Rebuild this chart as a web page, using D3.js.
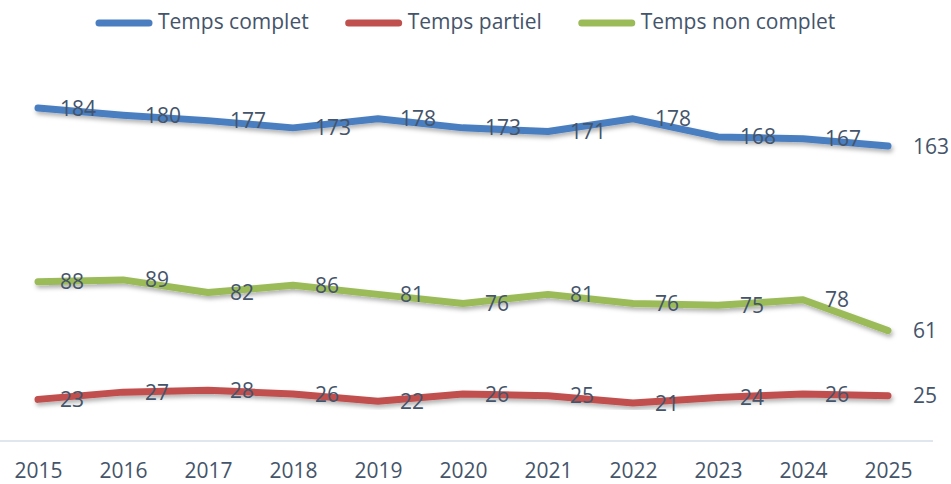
<!DOCTYPE html>
<html>
<head>
<meta charset="utf-8">
<script src="https://cdn.jsdelivr.net/npm/d3@7"></script>
<style>
  html, body { margin: 0; background: #fff; }
  text { font-family: "Open Sans", sans-serif; fill: #44546A; }
</style>
</head>
<body>
<script>
const years = ['2015', '2016', '2017', '2018', '2019', '2020', '2021', '2022', '2023', '2024', '2025'];
const complet = [184, 180, 177, 173, 178, 173, 171, 178, 168, 167, 163];
const partiel = [23, 27, 28, 26, 22, 26, 25, 21, 24, 26, 25];
const nonComplet = [88, 89, 82, 86, 81, 76, 81, 76, 75, 78, 61];
const seriesNames = ['Temps complet', 'Temps partiel', 'Temps non complet'];
const colors = ['#4A7EC0', '#C0504D', '#9BBB59'];

const width = 951;
const height = 484;

const svg = d3.select('body')
  .append('svg')
  .attr('width', width)
  .attr('height', height);

const defs = svg.append('defs');
defs.append('filter')
  .attr('id', 'shadow')
  .attr('x', '-5%').attr('y', '-50%')
  .attr('width', '110%').attr('height', '200%')
  .append('feDropShadow')
  .attr('dx', 1.5)
  .attr('dy', 3)
  .attr('stdDeviation', 2)
  .attr('flood-color', '#000')
  .attr('flood-opacity', 0.3);

const x = d3.scalePoint().domain(years).range([38, 888]);
const y = d3.scaleLinear().domain([0, 200]).range([441, 79]);

// axis line + year labels
svg.append('line')
  .attr('x1', 0)
  .attr('x2', 933)
  .attr('y1', y(0))
  .attr('y2', y(0))
  .attr('stroke', '#D5DEE8')
  .attr('stroke-width', 1.5);

const xAxis = svg.append('g')
  .attr('transform', `translate(0,${y(0)})`)
  .call(d3.axisBottom(x).tickSize(0).tickPadding(22));
xAxis.select('.domain').remove();
xAxis.selectAll('text')
  .attr('font-size', 21)
  .attr('fill', '#44546A')
  .style('font-family', '"Open Sans", sans-serif');

const data = [complet, partiel, nonComplet];

const line = d3.line()
  .x((d, i) => x(years[i]))
  .y(d => y(d));

data.forEach((values, k) => {
  svg.append('path')
    .datum(values)
    .attr('d', line)
    .attr('fill', 'none')
    .attr('stroke', colors[k])
    .attr('stroke-width', 7)
    .attr('stroke-linecap', 'round')
    .attr('stroke-linejoin', 'round')
    .attr('filter', 'url(#shadow)');
});

data.forEach((values, k) => {
  svg.append('g')
    .selectAll('text')
    .data(values)
    .join('text')
    .attr('x', (d, i) => x(years[i]) + (i === years.length - 1 ? 25 : 22))
    .attr('y', d => y(d))
    .attr('dy', '0.36em')
    .attr('font-size', 21)
    .text(d => d);
});

// legend
const legend = svg.append('g');
let lx = 97;
seriesNames.forEach((name, k) => {
  legend.append('line')
    .attr('x1', lx + 2)
    .attr('x2', lx + 52)
    .attr('y1', 23)
    .attr('y2', 23)
    .attr('stroke', colors[k])
    .attr('stroke-width', 7)
    .attr('stroke-linecap', 'round');
  const t = legend.append('text')
    .attr('x', lx + 61)
    .attr('y', 22)
    .attr('dy', '0.35em')
    .attr('font-size', 21)
    .text(name);
  lx += 61 + t.node().getComputedTextLength() + 38;
});
</script>
</body>
</html>
